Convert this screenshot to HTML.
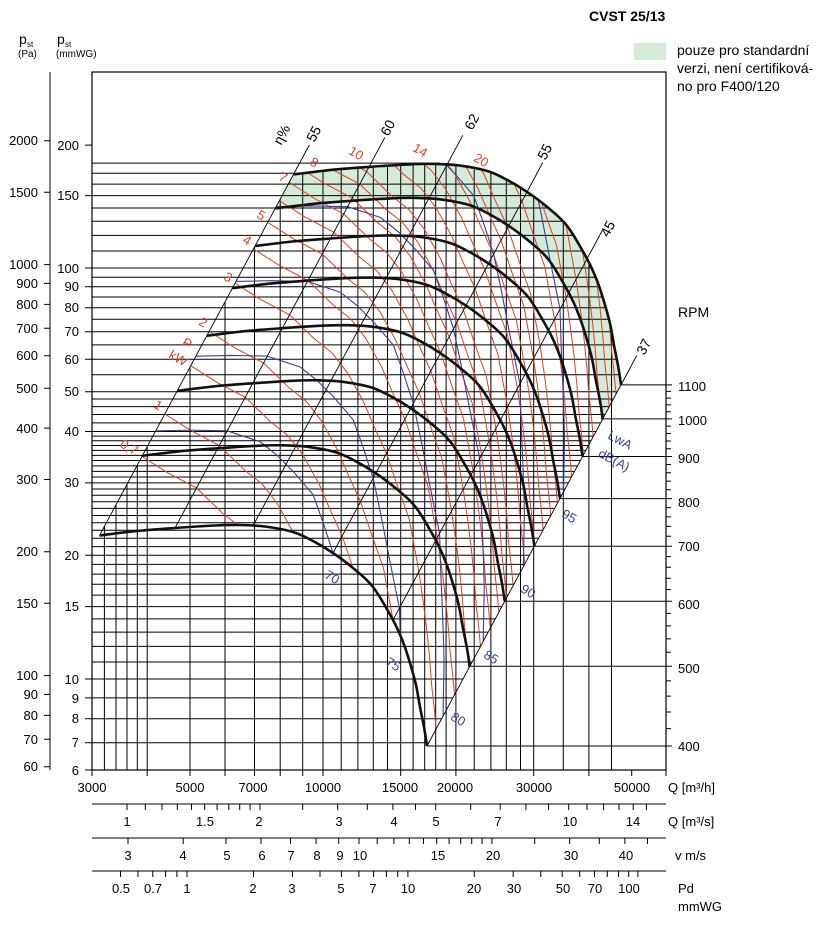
<!DOCTYPE html>
<html><head><meta charset="utf-8"><style>
html,body{margin:0;padding:0;background:#fff;}
svg{display:block;font-family:"Liberation Sans",Arial,sans-serif;}
</style></head><body>
<svg width="823" height="927" viewBox="0 0 823 927" xmlns="http://www.w3.org/2000/svg" xmlns:xlink="http://www.w3.org/1999/xlink">
<defs>
<path id="base" d="M99.5 535.5C105.75 534.75 124.42 532.25 137 531C149.58 529.75 162 528.92 175 528C188 527.08 204.17 526 215 525.5C225.83 525 231.67 524.83 240 525C248.33 525.17 256.17 525.33 265 526.5C273.83 527.67 285 529.58 293 532C301 534.42 306.33 537.5 313 541C319.67 544.5 326.33 548.5 333 553C339.67 557.5 346.33 562.33 353 568C359.67 573.67 366.33 578.33 373 587C379.67 595.67 388 610.83 393 620C398 629.17 400.17 634.83 403 642C405.83 649.17 407.83 655.83 410 663C412.17 670.17 414.33 677.67 416 685C417.67 692.33 418.67 700 420 707C421.33 714 422.83 720.5 424 727C425.17 733.5 426.5 742.83 427 746"/>
<path id="redm" d="M164.83 413.93L190.96 430.58L219.32 445.53L244.74 470.15L262.08 483.9L277.29 503.62L293 532L304.06 557.63L316.23 584.21L327.07 616.25L339.08 650.13L348.68 702.47L353.3 734.5L356.75 762.11L359.49 790.16L361.42 816.02L363.97 838.71L365.9 859.71"/>
<path id="bluem" d="M155.72 430.88L191.21 430.12L227.2 430.86L260.05 441.66L277.34 455.51L294.07 472.4L313.08 494.64L323.04 522.32L333 553L340.95 590.42L348.91 631.84L359.27 682.77L360.44 721.21L361.81 752.67L363 783.64L363.78 811.62L363.21 840.13L362.75 865.56"/>
<clipPath id="cR"><path d="M293.6 174.4L331.1 169.9L369.1 166.9L409.1 164.4L434.1 163.9L459.1 165.4L487.1 170.9L507.1 179.9L527.1 191.9L547.1 206.9L567.1 225.9L587.1 258.9L597.1 280.9L604.1 301.9L610.1 323.9L614.1 345.9L618.1 365.9L621.1 384.9L427 746L424 727L420 707L416 685L410 663L403 642L393 620L373 587L353 568L333 553L313 541L293 532L265 526.5L240 525L215 525.5L175 528L137 531L99.5 535.5Z"/></clipPath>
<clipPath id="cH"><path d="M92 174.4L293.6 174.4L331.1 169.9L369.1 166.9L409.1 164.4L434.1 163.9L459.1 165.4L487.1 170.9L507.1 179.9L527.1 191.9L547.1 206.9L567.1 225.9L587.1 258.9L597.1 280.9L604.1 301.9L610.1 323.9L614.1 345.9L618.1 365.9L621.1 384.9L427 746L427 750L92 750Z"/></clipPath>
<clipPath id="cV"><path d="M92 771L92 549.5L293.6 174.4L331.1 169.9L369.1 166.9L409.1 164.4L434.1 163.9L459.1 165.4L487.1 170.9L507.1 179.9L527.1 191.9L547.1 206.9L567.1 225.9L587.1 258.9L597.1 280.9L604.1 301.9L610.1 323.9L614.1 345.9L618.1 365.9L621.1 384.9L666 300L666 771Z"/></clipPath>
</defs>
<rect width="823" height="927" fill="#fff"/>

<path fill="#d5ebd9" d="M293.6 174.4L331.1 169.9L369.1 166.9L409.1 164.4L434.1 163.9L459.1 165.4L487.1 170.9L507.1 179.9L527.1 191.9L547.1 206.9L567.1 225.9L587.1 258.9L597.1 280.9L604.1 301.9L610.1 323.9L614.1 345.9L618.1 365.9L621.1 384.9L602.8 418.9L599.8 399.9L595.8 379.9L591.8 357.9L585.8 335.9L578.8 314.9L568.8 292.9L548.8 259.9L528.8 240.9L508.8 225.9L488.8 213.9L468.8 204.9L440.8 199.4L415.8 197.9L390.8 198.4L350.8 200.9L312.8 203.9L275.3 208.4Z"/>

<g clip-path="url(#cH)"><path stroke="#000" stroke-width="1" fill="none" d="M92 742.7H700M92 718.8H700M92 697.9H700M92 679H700M92 662H700M92 646.4H700M92 632.1H700M92 618.9H700M92 606.6H700M92 595.1H700M92 584.3H700M92 574.1H700M92 564.4H700M92 555.3H700M92 546.6H700M92 538.3H700M92 530.3H700M92 522.7H700M92 515.5H700M92 508.4H700M92 501.7H700M92 495.2H700M92 489H700M92 482.9H700M92 477H700M92 471.4H700M92 465.9H700M92 460.5H700M92 455.4H700M92 450.4H700M92 445.5H700M92 440.7H700M92 436.1H700M92 431.5H700M92 422.9H700M92 414.5H700M92 406.6H700M92 399H700M92 391.7H700M92 374.7H700M92 359.2H700M92 344.9H700M92 331.7H700M92 319.3H700M92 307.8H700M92 297H700M92 286.8H700M92 277.2H700M92 268H700M92 251H700M92 235.4H700M92 221.2H700M92 208H700M92 195.6H700M92 184.1H700"/></g>
<path stroke="#000" stroke-width="1" d="M92 173.3H300M92 163.1H440"/>

<g clip-path="url(#cV)"><path stroke="#000" stroke-width="1" fill="none" d="M104.4 770V72M116 770V72M127 770V72M137.3 770V72M147.2 770V72M190 770V72M225 770V72M254.5 770V72M280.2 770V72M302.7 770V72M323 770V72M341.2 770V72M357.9 770V72M373.3 770V72M387.5 770V72M400.7 770V72M413.1 770V72M424.7 770V72M435.7 770V72M446.1 770V72M455.9 770V72M474.2 770V72M490.9 770V72M506.3 770V72M520.5 770V72M533.7 770V72M563.3 770V72M588.9 770V72M611.5 770V72"/></g>

<g clip-path="url(#cR)" stroke="#dd3f26" stroke-width="1" fill="none">
<use href="#redm" xlink:href="#redm" transform="translate(-22.81,42.44)"/>
<use href="#redm" xlink:href="#redm"/>
<use href="#redm" xlink:href="#redm" transform="translate(25.93,-48.25)"/>
<use href="#redm" xlink:href="#redm" transform="translate(44.32,-82.47)"/>
<use href="#redm" xlink:href="#redm" transform="translate(70.24,-130.73)"/>
<use href="#redm" xlink:href="#redm" transform="translate(88.65,-164.98)"/>
<use href="#redm" xlink:href="#redm" transform="translate(102.91,-191.53)"/>
<use href="#redm" xlink:href="#redm" transform="translate(114.57,-213.23)"/>
<use href="#redm" xlink:href="#redm" transform="translate(124.42,-231.56)"/>
<use href="#redm" xlink:href="#redm" transform="translate(132.96,-247.45)"/>
<use href="#redm" xlink:href="#redm" transform="translate(140.49,-261.45)"/>
<use href="#redm" xlink:href="#redm" transform="translate(147.23,-274)"/>
<use href="#redm" xlink:href="#redm" transform="translate(158.89,-295.7)"/>
<use href="#redm" xlink:href="#redm" transform="translate(168.74,-314.03)"/>
<use href="#redm" xlink:href="#redm" transform="translate(177.28,-329.92)"/>
<use href="#redm" xlink:href="#redm" transform="translate(184.82,-343.95)"/>
<use href="#redm" xlink:href="#redm" transform="translate(191.55,-356.47)"/>
<use href="#redm" xlink:href="#redm" transform="translate(205.81,-383.02)"/>
<use href="#redm" xlink:href="#redm" transform="translate(217.47,-404.73)"/>
<use href="#redm" xlink:href="#redm" transform="translate(227.34,-423.08)"/>
<use href="#redm" xlink:href="#redm" transform="translate(235.88,-438.98)"/>
<use href="#redm" xlink:href="#redm" transform="translate(243.4,-452.98)"/>
<use href="#redm" xlink:href="#redm" transform="translate(250.14,-465.53)"/>
</g>

<g clip-path="url(#cR)" stroke="#3b3f94" stroke-width="1.1" fill="none">
<use href="#bluem" xlink:href="#bluem"/>
<use href="#bluem" xlink:href="#bluem" transform="translate(40.16,-74.73)"/>
<use href="#bluem" xlink:href="#bluem" transform="translate(80.31,-149.45)"/>
<use href="#bluem" xlink:href="#bluem" transform="translate(120.47,-224.18)"/>
<use href="#bluem" xlink:href="#bluem" transform="translate(160.62,-298.9)"/>
<use href="#bluem" xlink:href="#bluem" transform="translate(200.78,-373.63)"/>
</g>

<path stroke="#000" stroke-width="0.9" fill="none" d="M99.5 535.5L309.3 145M175 528L384.8 137.5M253 525.8L462.8 135.3M333 553L542.8 162.5M393 620L602.8 229.5M427 746L636.8 355.5"/>

<g stroke="#111" stroke-width="2.6" fill="none" stroke-linejoin="round">
<use href="#base" xlink:href="#base"/>
<use href="#base" xlink:href="#base" transform="translate(42.8,-79.7)"/>
<use href="#base" xlink:href="#base" transform="translate(77.8,-144.7)"/>
<use href="#base" xlink:href="#base" transform="translate(107.4,-199.8)"/>
<use href="#base" xlink:href="#base" transform="translate(133,-247.4)"/>
<use href="#base" xlink:href="#base" transform="translate(155.6,-289.5)"/>
<use href="#base" xlink:href="#base" transform="translate(175.8,-327.1)"/>
<use href="#base" xlink:href="#base" transform="translate(194.1,-361.1)"/>
</g>

<path stroke="#000" stroke-width="1" fill="none" d="M427 746H672M469.8 666.3H672M504.8 601.3H672M534.4 546.2H672M560 498.6H672M582.6 456.5H672M602.8 418.9H672M621.1 384.9H672
M666 728.6h5M666 712h5M666 696.1h5M666 680.9h5M666 652.3h5M666 638.9h5M666 625.9h5M666 613.4h5M666 589.6h5M666 578.2h5M666 567.2h5M666 556.6h5M666 536.2h5M666 526.4h5M666 516.9h5M666 507.6h5M666 489.8h5M666 481.1h5M666 472.7h5M666 464.5h5M666 448.7h5M666 441h5M666 433.5h5M666 426.1h5M666 411.8h5M666 404.9h5M666 398.1h5M666 391.4h5"/>

<path stroke="#000" stroke-width="1" fill="none" d="M50 72V770
M44 140.8h6M44 192.2h6M44 264.6h6M44 283.4h6M44 304.4h6M44 328.2h6M44 355.8h6M44 388.3h6M44 428.1h6M44 479.5h6M44 551.8h6M44 603.2h6M44 675.6h6M44 694.4h6M44 715.4h6M44 739.2h6M44 766.7h6
M85 145.1h7M85 195.6h7M85 268h7M85 286.8h7M85 307.8h7M85 331.7h7M85 359.2h7M85 391.7h7M85 431.5h7M85 482.9h7M85 555.3h7M85 606.6h7M85 679h7M85 697.9h7M85 718.8h7M85 742.7h7M85 770h7
M92 770v6M147.2 770v6M190 770v6M225 770v6M254.5 770v6M280.2 770v6M302.7 770v6M323 770v6M400.7 770v6M455.9 770v6M533.7 770v6M588.9 770v6M631.7 770v6M666 770v6
M92 804H666M92 838H666M92 871H666
M127 804v6M145.3 804v6M162 804v6M177.3 804v6M191.5 804v6M204.7 804v6M217.1 804v6M228.8 804v6M239.7 804v6M250.1 804v6M259.9 804v6M302.7 804v6M337.7 804v6M367.3 804v6M392.9 804v6M415.5 804v6M435.7 804v6M470.7 804v6M500.2 804v6M525.9 804v6M548.5 804v6M568.7 804v6M587 804v6M603.6 804v6M619 804v6M633.2 804v6M646.4 804v6
M128 838v6M183.2 838v6M226 838v6M261 838v6M290.5 838v6M316.1 838v6M338.7 838v6M359 838v6M377.2 838v6M393.9 838v6M409.3 838v6M423.5 838v6M436.7 838v6M449.1 838v6M460.7 838v6M471.7 838v6M482.1 838v6M491.9 838v6M534.7 838v6M569.7 838v6M599.3 838v6M624.9 838v6M647.5 838v6
M120.5 871v6M138 871v6M152.8 871v6M165.6 871v6M176.9 871v6M187 871v6M253.5 871v6M292.4 871v6M320 871v6M341.4 871v6M358.9 871v6M373.6 871v6M386.4 871v6M397.7 871v6M407.9 871v6M474.3 871v6M513.2 871v6M540.8 871v6M562.2 871v6M579.7 871v6M594.5 871v6M607.3 871v6M618.6 871v6M628.7 871v6M637.9 871v6"/>
<rect x="92" y="72" width="574" height="698" fill="none" stroke="#000" stroke-width="1.2"/>

<g font-size="14" fill="#000">
<text x="589" y="21" font-weight="bold">CVST 25/13</text>
<text x="677" y="55">pouze pro standardní</text>
<text x="677" y="73">verzi, není certifiková-</text>
<text x="677" y="91">no pro F400/120</text>
<text x="678" y="317">RPM</text>
</g>
<rect x="634" y="43" width="32" height="17" fill="#d5ebd9"/>

<g font-size="14" fill="#000">
<text x="19" y="44">p</text><text x="27" y="47" font-size="8">st</text>
<text x="18" y="57" font-size="10">(Pa)</text>
<text x="57" y="44">p</text><text x="65" y="47" font-size="8">st</text>
<text x="56" y="57" font-size="10">(mmWG)</text>
</g>

<g font-size="13" fill="#000" text-anchor="end">
<text x="38" y="145">2000</text><text x="38" y="197">1500</text><text x="38" y="269">1000</text>
<text x="38" y="288">900</text><text x="38" y="309">800</text><text x="38" y="333">700</text>
<text x="38" y="360">600</text><text x="38" y="393">500</text><text x="38" y="433">400</text>
<text x="38" y="484">300</text><text x="38" y="556">200</text><text x="38" y="608">150</text>
<text x="38" y="680">100</text><text x="38" y="699">90</text><text x="38" y="720">80</text>
<text x="38" y="744">70</text><text x="38" y="771">60</text>
<text x="79" y="150">200</text><text x="79" y="200">150</text><text x="79" y="273">100</text>
<text x="79" y="291">90</text><text x="79" y="312">80</text><text x="79" y="336">70</text>
<text x="79" y="364">60</text><text x="79" y="396">50</text><text x="79" y="436">40</text>
<text x="79" y="487">30</text><text x="79" y="560">20</text><text x="79" y="611">15</text>
<text x="79" y="684">10</text><text x="79" y="703">9</text><text x="79" y="723">8</text>
<text x="79" y="747">7</text><text x="79" y="775">6</text>
</g>

<g font-size="13" fill="#000">
<text x="678" y="391">1100</text><text x="678" y="425">1000</text><text x="678" y="463">900</text>
<text x="678" y="507">800</text><text x="678" y="551">700</text><text x="678" y="609">600</text>
<text x="678" y="673">500</text><text x="678" y="751">400</text>
</g>

<g font-size="13" fill="#000" text-anchor="middle">
<text x="92" y="792">3000</text><text x="190" y="792">5000</text><text x="253" y="792">7000</text>
<text x="323" y="792">10000</text><text x="400" y="792">15000</text><text x="455" y="792">20000</text>
<text x="534" y="792">30000</text><text x="632" y="792">50000</text>
<text x="127" y="826">1</text><text x="205" y="826">1.5</text><text x="259" y="826">2</text>
<text x="339" y="826">3</text><text x="394" y="826">4</text><text x="436" y="826">5</text>
<text x="498" y="826">7</text><text x="570" y="826">10</text><text x="633" y="826">14</text>
<text x="128" y="860">3</text><text x="183" y="860">4</text><text x="227" y="860">5</text>
<text x="262" y="860">6</text><text x="291" y="860">7</text><text x="317" y="860">8</text>
<text x="340" y="860">9</text><text x="360" y="860">10</text><text x="438" y="860">15</text>
<text x="493" y="860">20</text><text x="571" y="860">30</text><text x="626" y="860">40</text>
<text x="121" y="893">0.5</text><text x="153" y="893">0.7</text><text x="187" y="893">1</text>
<text x="253" y="893">2</text><text x="292" y="893">3</text><text x="341" y="893">5</text>
<text x="373" y="893">7</text><text x="408" y="893">10</text><text x="474" y="893">20</text>
<text x="514" y="893">30</text><text x="563" y="893">50</text><text x="595" y="893">70</text>
<text x="629" y="893">100</text>
</g>
<g font-size="13" fill="#000">
<text x="668" y="792">Q [m³/h]</text>
<text x="668" y="826">Q [m³/s]</text>
<text x="675" y="860">v m/s</text>
<text x="678" y="893">Pd</text>
<text x="678" y="911">mmWG</text>
</g>

<g font-size="14" fill="#000" text-anchor="middle">
<text transform="translate(286,137) rotate(-62)">η%</text>
<text transform="translate(318,136) rotate(-62)">55</text>
<text transform="translate(392,130) rotate(-62)">60</text>
<text transform="translate(476,124) rotate(-62)">62</text>
<text transform="translate(549,154) rotate(-62)">55</text>
<text transform="translate(612,231) rotate(-62)">45</text>
<text transform="translate(648,349) rotate(-62)">37</text>
</g>

<g font-size="13" fill="#dd3f26" text-anchor="middle">
<text transform="translate(127,451) rotate(30)">0,7</text>
<text transform="translate(156,409) rotate(30)">1</text>
<text transform="translate(185,347) rotate(30)">P</text>
<text transform="translate(176,362) rotate(30)">kW</text>
<text transform="translate(201,326) rotate(30)">2</text>
<text transform="translate(226,281) rotate(30)">3</text>
<text transform="translate(245,244) rotate(30)">4</text>
<text transform="translate(259,219) rotate(30)">5</text>
<text transform="translate(281,181) rotate(30)">7</text>
<text transform="translate(312,166) rotate(30)">8</text>
<text transform="translate(354,157) rotate(30)">10</text>
<text transform="translate(418,154) rotate(30)">14</text>
<text transform="translate(479,164) rotate(30)">20</text>
</g>

<g font-size="13" fill="#3b3f94" text-anchor="middle">
<text transform="translate(330,581) rotate(30)">70</text>
<text transform="translate(391,668) rotate(30)">75</text>
<text transform="translate(456,723) rotate(30)">80</text>
<text transform="translate(489,661) rotate(30)">85</text>
<text transform="translate(526,595) rotate(30)">90</text>
<text transform="translate(567,520) rotate(30)">95</text>
<text transform="translate(618,444) rotate(28)">LwA</text>
<text transform="translate(612,464) rotate(28)">dB(A)</text>
</g>
</svg>
</body></html>
